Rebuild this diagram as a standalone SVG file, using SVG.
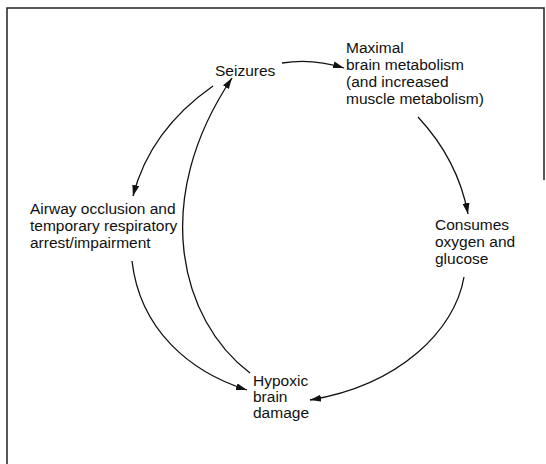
<svg xmlns="http://www.w3.org/2000/svg" width="546" height="464" viewBox="0 0 546 464">
<defs>
<marker id="ah" viewBox="0 0 11 7" refX="11" refY="3.5" markerWidth="11" markerHeight="7" markerUnits="userSpaceOnUse" orient="auto">
<path d="M0,0 L11,3.5 L0,7 z" fill="#111"/>
</marker>
<style>
text{font-family:"Liberation Sans",Arial,sans-serif;font-size:15.5px;fill:#111}
.c{fill:none;stroke:#111;stroke-width:1.3;marker-end:url(#ah)}
.f{fill:none;stroke:#222;stroke-width:1.5}
</style>
</defs>
<rect width="546" height="464" fill="#fff"/>
<path class="f" d="M7,464 V8 H544 V180"/>
<g id="seizures"><text x="215" y="76">Seizures</text></g>
<g id="maximal"><text x="346" y="53">Maximal</text><text x="346" y="70">brain metabolism</text><text x="346" y="87">(and increased</text><text x="346" y="104">muscle metabolism)</text></g>
<g id="airway"><text x="30" y="214">Airway occlusion and</text><text x="30" y="231">temporary respiratory</text><text x="30" y="248">arrest/impairment</text></g>
<g id="consumes"><text x="435" y="230">Consumes</text><text x="435" y="247">oxygen and</text><text x="435" y="264">glucose</text></g>
<g id="hypoxic"><text x="253" y="386">Hypoxic</text><text x="253" y="402">brain</text><text x="253" y="418">damage</text></g>
<g id="connectors">
<path class="c" d="M282,63 Q312,58 344,68"/>
<path class="c" d="M418,117 Q458,160 468,214"/>
<path class="c" d="M464,277 C455,330 400,385 310,400"/>
<path class="c" d="M213,86 Q150,130 133,196"/>
<path class="c" d="M132,261 C140,330 190,372 247,390"/>
<path class="c" d="M250,373 C180,320 150,200 232,78"/>
</g>
</svg>
